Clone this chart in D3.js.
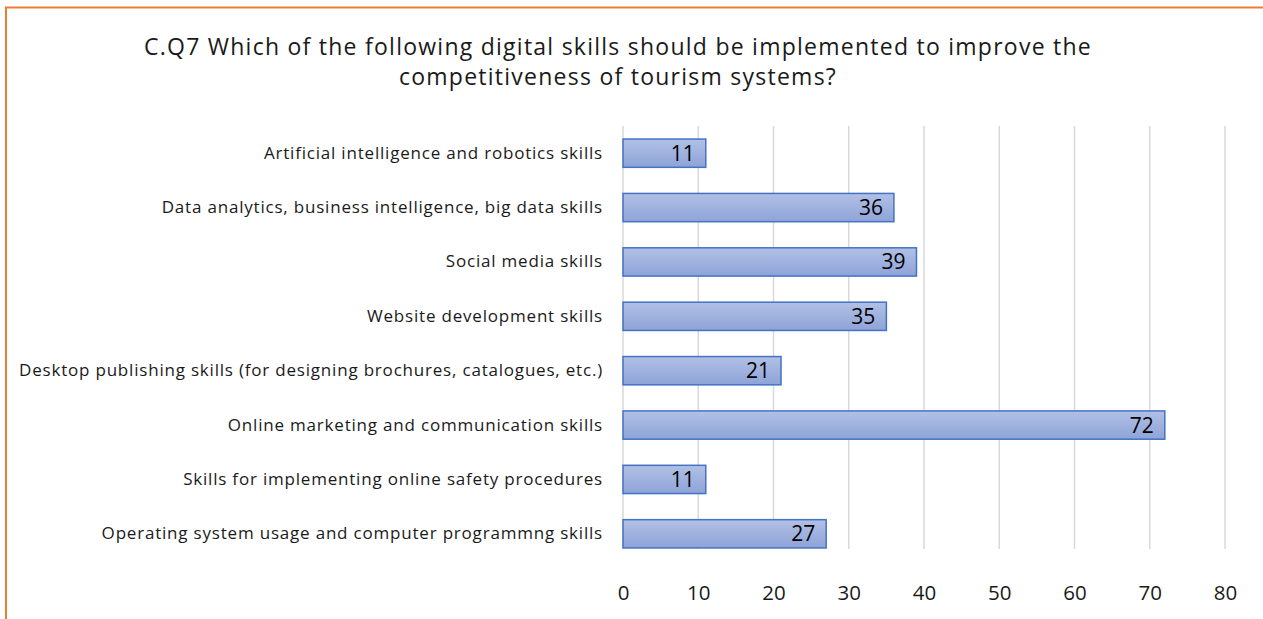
<!DOCTYPE html>
<html>
<head>
<meta charset="utf-8">
<script src="https://cdn.jsdelivr.net/npm/d3@7"></script>
<style>
  body { margin: 0; background: #fff; }
  text { font-family: "Open Sans", "DejaVu Sans", sans-serif; }
</style>
</head>
<body>
<script>
// chart data
const categories = [
  "Artificial intelligence and robotics skills",
  "Data analytics, business intelligence, big data skills",
  "Social media skills",
  "Website development skills",
  "Desktop publishing skills (for designing brochures, catalogues, etc.)",
  "Online marketing and communication skills",
  "Skills for implementing online safety procedures",
  "Operating system usage and computer programmng skills"
];
const values = [11, 36, 39, 35, 21, 72, 11, 27];
const xTicks = [0, 10, 20, 30, 40, 50, 60, 70, 80];
const titleLines = [
  "C.Q7 Which of the following digital skills should be implemented to improve the",
  "competitiveness of tourism systems?"
];

const width = 1263;
const height = 619;

let svg = d3.select("body").append("svg")
  .attr("width", width)
  .attr("height", height);

// gradient for bars
let defs = svg.append("defs");
let grad = defs.append("linearGradient")
  .attr("id", "barGrad")
  .attr("x1", 0).attr("y1", 0).attr("x2", 0).attr("y2", 1);
grad.append("stop").attr("offset", "0%").attr("stop-color", "#b1c0e5");
grad.append("stop").attr("offset", "100%").attr("stop-color", "#8ea3d8");

// orange frame (only top and left visible)
svg.append("line")
  .attr("x1", 5).attr("x2", width).attr("y1", 7.5).attr("y2", 7.5)
  .attr("stroke", "#ed7d31").attr("stroke-width", 2);
svg.append("line")
  .attr("x1", 6).attr("x2", 6).attr("y1", 7).attr("y2", height)
  .attr("stroke", "#ed7d31").attr("stroke-width", 2);

// title
svg.append("text")
  .attr("text-anchor", "middle")
  .attr("font-size", 23)
  .attr("letter-spacing", 1.25)
  .attr("fill", "#1a1a1a")
  .selectAll("tspan")
  .data(titleLines)
  .enter().append("tspan")
    .attr("x", 618)
    .attr("y", (d, i) => 55 + i * 30)
    .text(d => d);

// scales
const plotLeft = 623, plotRight = 1225, plotTop = 126, plotBottom = 561;
let x = d3.scaleLinear().domain([0, 80]).range([plotLeft, plotRight]);
let y = d3.scaleBand().domain(categories).range([plotTop, plotBottom]).paddingInner(0.48).paddingOuter(0.24);

// gridlines
svg.append("g").selectAll("line")
  .data(xTicks)
  .enter().append("line")
    .attr("x1", d => x(d)).attr("x2", d => x(d))
    .attr("y1", plotTop).attr("y2", plotBottom - 12)
    .attr("stroke", "#d9d9d9")
    .attr("stroke-width", 1.5);

// x axis labels
let xAxis = d3.axisBottom(x).tickValues(xTicks).tickSize(0).tickPadding(0);
let gx = svg.append("g")
  .attr("transform", "translate(0," + 585 + ")")
  .call(xAxis);
gx.select(".domain").remove();
gx.selectAll("text")
  .attr("font-size", 20.5)
  .attr("fill", "#1a1a1a")
  .attr("font-family", "\"Open Sans\", sans-serif");

// y axis labels
let yAxis = d3.axisLeft(y).tickSize(0).tickPadding(20);
let gy = svg.append("g")
  .attr("transform", "translate(" + plotLeft + ",0)")
  .call(yAxis);
gy.select(".domain").remove();
gy.selectAll("text")
  .attr("font-size", 17)
  .attr("letter-spacing", 0.8)
  .attr("fill", "#1a1a1a")
  .attr("font-family", "\"Open Sans\", sans-serif");

// bars
svg.append("g").selectAll("rect")
  .data(values)
  .enter().append("rect")
    .attr("x", x(0))
    .attr("y", (d, i) => y(categories[i]))
    .attr("width", d => x(d) - x(0))
    .attr("height", y.bandwidth())
    .attr("fill", "url(#barGrad)")
    .attr("stroke", "#4472c4")
    .attr("stroke-width", 1.5);

// value labels
svg.append("g").selectAll("text")
  .data(values)
  .enter().append("text")
    .attr("x", d => x(d) - 11)
    .attr("y", (d, i) => y(categories[i]) + y.bandwidth() / 2)
    .attr("dy", "0.36em")
    .attr("text-anchor", "end")
    .attr("font-size", 21)
    .attr("fill", "#000")
    .text(d => d);
</script>
</body>
</html>
